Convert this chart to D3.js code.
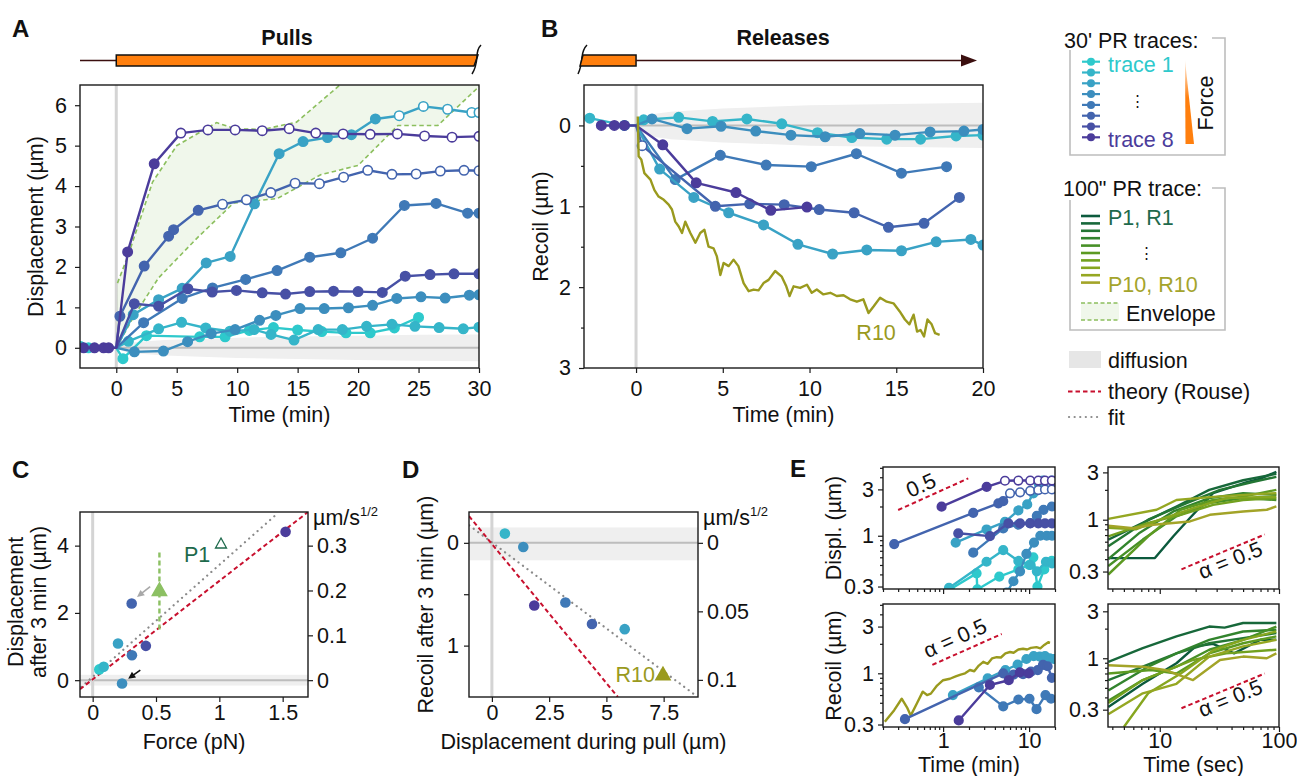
<!DOCTYPE html>
<html>
<head>
<meta charset="utf-8">
<script src="https://cdn.jsdelivr.net/npm/d3@7"></script>
<style>
body { margin: 0; background: #fff; }
</style>
</head>
<body>
<script>
var FONT = '"Liberation Sans", Arial, Helvetica, sans-serif'
var FS = 21.5

// ---- colours
var traceColors = ['#2ec9cc', '#35b5c9', '#39a2c5', '#3c8ebe', '#3f79b7', '#4364ae', '#4750a5', '#4b3c9b']
var greenColors = ['#0c5a3d', '#17683a', '#237634', '#32842d', '#479027', '#5c9a22', '#72a11f', '#86a61f', '#95a722', '#a3a428']
var olive = '#9a9a1e'

// ---- A: pulls, displacement (um) vs time (min)
var pullT1 = [[-2.95, 0.03], [-2.3, 0], [0, 0], [0.55, -0.27], [2.5, 0.3], [6.9, 0.27], [9.0, 0.27], [11.0, 0.43], [13.0, 0.5], [15.0, 0.44], [17.0, 0.4], [19.0, 0.37], [21.0, 0.37], [23.0, 0.49], [25.0, 0.75]]
var pullT2 = [[0, 0], [1.0, 0.16], [3.5, 0.47], [5.4, 0.63], [7.4, 0.49], [9.4, 0.41], [11.4, 0.45], [12.8, 0.33], [14.7, 0.19], [16.7, 0.45], [18.7, 0.45], [20.7, 0.53], [22.8, 0.58], [24.7, 0.53], [26.7, 0.5], [28.7, 0.47], [30, 0.51]]
var pullT3 = [[0, 0], [1.4, 0.82], [3.5, 1.19], [5.45, 1.47], [7.44, 2.1], [9.42, 2.26], [11.43, 3.56], [13.47, 4.8], [15.45, 5.1], [17.47, 5.2], [19.45, 5.27], [21.43, 5.66], [23.4, 5.74], [25.4, 5.97], [27.4, 5.9], [29.4, 5.82], [30, 5.82]]
var pullT4 = [[0, 0], [1.5, -0.1], [3.9, -0.08], [5.9, 0.15], [7.85, 0.35], [9.83, 0.45], [11.85, 0.68], [13.2, 0.8], [15.2, 0.97], [17.2, 0.97], [19.2, 0.99], [21.2, 1.05], [23.2, 1.22], [25.2, 1.26], [27.2, 1.23], [29.2, 1.3], [30, 1.31]]
var pullT5 = [[0, 0], [2.26, 0.62], [5.45, 1.22], [7.96, 1.48], [10.7, 1.69], [13.3, 1.91], [16.0, 2.24], [18.57, 2.35], [21.2, 2.71], [23.83, 3.52], [26.45, 3.57], [29.06, 3.33], [30, 3.33]]
var pullT6 = [[0, 0], [0.3, 0.78], [2.31, 2.02], [4.33, 2.76], [4.74, 2.92], [6.78, 3.4], [8.79, 3.55], [10.77, 3.66], [12.78, 3.84], [14.79, 4.07], [16.8, 4.06], [18.8, 4.22], [20.8, 4.39], [22.8, 4.29], [24.8, 4.3], [26.8, 4.37], [28.76, 4.39], [30, 4.38]]
var pullT7 = [[0, 0], [1.49, 1.09], [3.5, 1.03], [5.92, 1.46], [7.93, 1.38], [9.94, 1.42], [12.07, 1.36], [14.0, 1.33], [16.0, 1.39], [17.97, 1.4], [20.0, 1.39], [22.0, 1.37], [23.9, 1.77], [25.95, 1.81], [27.93, 1.83], [30, 1.83]]
var pullT8 = [[-2.7, 0], [-1.8, 0], [-1.05, 0], [-0.63, 0], [0, 0], [0.94, 2.37], [3.14, 4.55], [5.34, 5.31], [7.58, 5.39], [9.83, 5.39], [12.07, 5.37], [14.3, 5.42], [16.5, 5.31], [18.76, 5.29], [21.0, 5.28], [23.25, 5.29], [25.5, 5.24], [27.77, 5.21], [30, 5.23]]
var pullOpenFrom = [99, 99, 23, 99, 99, 8, 99, 5]
var envelopeUpper = [[0.1, 1.6], [1.0, 2.3], [3.0, 4.1], [5.0, 5.0], [8.3, 5.57], [9.8, 5.42], [12.1, 5.4], [14.9, 5.58], [18.5, 6.5], [22, 7.4], [30, 9]]
var envelopeLower = [[0, 0], [1.5, 0.8], [3.5, 1.73], [6.7, 2.72], [9.7, 3.58], [13.3, 3.69], [16.9, 4.28], [20, 4.51], [23.3, 5.5], [26.6, 5.5], [30, 6.46]]
var diffA = [[0, 0.02], [1, 0.12], [2, 0.15], [4, 0.19], [7, 0.22], [10, 0.25], [15, 0.28], [20, 0.3], [25, 0.32], [30, 0.33]]

// ---- B: releases, recoil (um) vs time (min)
var relT2 = [[-2.67, -0.09], [-0.67, 0], [0, 0], [0.44, -0.07], [2.46, -0.1], [4.41, -0.05], [6.39, -0.08], [8.4, -0.02], [10.46, 0.09], [12.44, 0.15], [14.45, 0.17], [16.4, 0.17], [18.45, 0.13], [20, 0.12]]
var relT4 = [[0, 0], [0.92, -0.08], [2.94, 0.04], [4.9, 0.01], [6.9, 0.07], [8.93, 0.12], [10.9, 0.14], [12.9, 0.1], [14.93, 0.12], [16.95, 0.08], [18.9, 0.07], [20, 0.05]]
var relT5 = [[0, 0], [2.26, 0.67], [4.86, 0.37], [7.5, 0.49], [10.1, 0.51], [12.7, 0.35], [15.3, 0.59], [17.9, 0.51]]
var relT3 = [[0, 0], [1.36, 0.54], [3.33, 0.89], [5.34, 1.08], [7.35, 1.23], [9.33, 1.47], [11.33, 1.59], [13.3, 1.54], [15.3, 1.55], [17.3, 1.44], [19.3, 1.41], [20, 1.48]]
var relT6 = [[0, 0], [0.35, 0.25], [4.57, 1.0], [6.55, 0.97], [8.54, 0.98], [10.56, 1.04], [12.57, 1.08], [14.55, 1.26], [16.6, 1.21], [18.64, 0.89]]
var relT8 = [[-2.0, 0], [-1.25, 0], [-0.67, 0], [0, 0], [1.54, 0.24], [3.47, 0.71], [5.76, 0.83], [7.77, 1.05], [9.85, 1.01]]
var relR10 = [[0.1, -0.11], [0.15, 0.38], [0.3, 0.42], [0.48, 0.59], [0.83, 0.67], [1.06, 0.8], [1.3, 0.88], [1.6, 0.92], [1.88, 0.98], [2.07, 1.04], [2.26, 1.19], [2.46, 1.25], [2.65, 1.33], [2.84, 1.19], [3.13, 1.33], [3.42, 1.45], [3.7, 1.33], [3.94, 1.29], [4.18, 1.5], [4.47, 1.52], [4.66, 1.62], [4.86, 1.85], [5.05, 1.7], [5.34, 1.74], [5.62, 1.66], [5.9, 1.74], [6.2, 1.95], [6.49, 2.05], [6.78, 2.03], [7.06, 2.04], [7.35, 1.95], [7.64, 1.91], [8.02, 1.8], [8.4, 1.87], [8.66, 1.99], [8.85, 2.11], [9.08, 1.99], [9.46, 2.01], [9.85, 1.97], [10.13, 2.07], [10.42, 2.03], [10.8, 2.09], [11.2, 2.07], [11.57, 2.11], [11.96, 2.1], [12.34, 2.15], [12.73, 2.18], [13.1, 2.15], [13.4, 2.32], [13.69, 2.24], [14.07, 2.13], [14.45, 2.18], [14.84, 2.2], [15.2, 2.3], [15.5, 2.4], [15.76, 2.46], [16.0, 2.34], [16.2, 2.55], [16.4, 2.53], [16.6, 2.61], [16.8, 2.4], [17.04, 2.46], [17.24, 2.57], [17.5, 2.59]]
var diffB = [[0, 0.02], [0.5, 0.1], [1, 0.14], [2, 0.17], [5, 0.21], [10, 0.25], [20, 0.28]]

// ---- C: displacement after 3 min vs force
var forceC = [0.052, 0.087, 0.2, 0.232, 0.31, 0.308, 0.42, 1.523]
var displC = [0.32, 0.4, 1.09, -0.1, 0.74, 2.28, 1.02, 4.41]
var colorC = [0, 1, 2, 3, 4, 5, 6, 7]
var theoryC = [[-0.1, -0.27], [1.7, 5.0]]
var fitC = [[-0.09, -0.2], [1.445, 4.91]]
var p1Force = 0.527, p1Range = [1.51, 3.87], p1Value = 2.68

// ---- D: recoil after 3 min vs displacement during pull
var pullD = [0.567, 1.37, 1.85, 3.21, 4.37, 5.8]
var recoilD = [-0.09, 0.04, 0.61, 0.58, 0.79, 0.84]
var colorD = [1, 3, 7, 4, 5, 2]
var r10D = [7.47, 1.28]
var theoryD = [[-1, -0.26], [5.5, 1.5]]
var fitD = [[-0.99, -0.17], [8.93, 1.49]]
var rightFactor = 0.075

// ---- E: log-log, 30' traces (min)
var dispE1 = [[1.2, 0.28], [2.45, 0.41], [2.5, 0.28], [4.5, 0.38], [7.5, 0.45], [10, 0.5], [11.2, 0.6], [12.5, 0.3], [15, 0.45], [18.4, 0.55]]
var dispE2 = [[1.17, 0.29], [3.2, 0.54], [5.0, 0.71], [7.5, 0.55], [10.3, 0.5], [12.3, 0.43], [15.7, 0.54], [18.4, 0.52]]
var dispE3 = [[1.4, 0.85], [3.2, 1.16], [5.24, 1.39], [7.5, 1.82], [9.5, 2.1], [11.2, 2.73], [13.0, 3.4], [14.5, 3.7], [18.4, 3.7]]
var dispE4 = [[5.5, 0.26], [6.57, 0.34], [7.85, 0.43], [9.3, 0.65], [11.4, 0.85], [13.5, 1.0], [16, 1.0], [18.4, 1.0]]
var dispE5 = [[2.24, 0.67], [5.0, 1.19], [7.5, 1.3], [10.3, 1.35], [12.3, 1.6], [14.7, 1.85], [18.4, 2.0]]
var dispE6 = [[0.27, 0.82], [2.24, 1.72], [4.39, 2.15], [5.0, 2.27], [6.0, 2.73], [7.85, 2.8], [10.3, 2.9], [12.8, 2.95], [15.3, 3.0], [18.4, 3.0]]
var dispE7 = [[1.5, 1.06], [3.5, 0.99], [5.74, 1.34], [7.85, 1.34], [10.3, 1.34], [12.8, 1.34], [15.3, 1.34], [18.4, 1.34]]
var dispE8 = [[0.96, 1.99], [3.21, 3.19], [5.24, 3.68], [7.5, 3.7], [10.3, 3.7], [12.8, 3.7], [15.3, 3.7], [18.4, 3.7]]
var dispEOpenFrom = [99, 99, 99, 99, 99, 6, 99, 5]
var recE3 = [[1.3, 0.6], [3.3, 0.89], [5.3, 1.08], [7.35, 1.23], [9.3, 1.4], [11.3, 1.5], [13.3, 1.48], [15.3, 1.5], [17.3, 1.42], [19.3, 1.4]]
var recE5 = [[2.6, 0.72], [5.0, 0.46], [7.5, 0.54], [10.1, 0.55], [12.2, 0.43], [15.5, 0.6], [18.0, 0.55]]
var recE6 = [[0.36, 0.34], [5.0, 1.0], [6.6, 0.97], [8.5, 0.98], [10.5, 1.04], [12.6, 1.08], [14.5, 1.22], [16.4, 1.18], [18.4, 0.9]]
var recE8 = [[1.52, 0.33], [3.5, 0.76], [5.8, 0.85], [7.8, 1.02], [9.9, 1.0]]
var recE10 = [[0.21, 0.32], [0.27, 0.42], [0.33, 0.55], [0.38, 0.45], [0.42, 0.37], [0.5, 0.5], [0.58, 0.65], [0.65, 0.6], [0.72, 0.62], [0.85, 0.75], [1.0, 0.85], [1.2, 0.88], [1.4, 0.93], [1.6, 0.97], [1.8, 1.0], [2.05, 1.08], [2.3, 1.05], [2.6, 1.2], [2.93, 1.31], [3.3, 1.25], [3.7, 1.42], [4.2, 1.46], [4.7, 1.45], [5.3, 1.6], [6.0, 1.65], [6.6, 1.62], [7.5, 1.75], [8.5, 1.78], [9.5, 1.75], [10.5, 1.82], [12.2, 1.85], [13.5, 1.8], [15, 1.95], [16.7, 2.08], [17.5, 2.05]]
var slopeDispE = [[0.3, 1.84], [1.96, 3.89]]
var slopeRecE = [[0.75, 1.22], [4.8, 2.52]]

// ---- E: log-log, 100'' traces (sec), P1..P10 and R1..R10
var pullE100 = [
  [[3.7, 0.41], [9.1, 0.41], [13, 0.68], [17.9, 1.04], [28, 1.85], [50, 2.33], [70, 2.6], [95, 3.04]],
  [[3.7, 0.63], [7.2, 0.93], [13.8, 1.36], [26, 2.0], [50, 2.5], [70, 2.7], [95, 2.9]],
  [[3.7, 0.54], [8, 1.0], [16.8, 1.47], [32, 2.0], [60, 2.4], [95, 2.7]],
  [[3.7, 0.4], [6.8, 0.74], [13, 1.21], [26, 1.65], [50, 1.85], [95, 1.78]],
  [[3.7, 0.34], [7.2, 0.63], [13.8, 1.08], [26, 1.47], [50, 1.65], [95, 1.58]],
  [[3.7, 0.28], [8, 0.68], [15, 1.26], [28, 1.58], [50, 1.71], [95, 2.0]],
  [[3.7, 0.68], [8, 0.93], [15, 1.12], [28, 1.41], [50, 1.58], [95, 1.65]],
  [[3.7, 0.83], [6.3, 0.8], [10, 1.0], [19, 1.3], [36, 1.65], [95, 1.71]],
  [[3.7, 1.02], [9.4, 1.26], [13.8, 1.58], [26.3, 1.69], [50, 1.78], [95, 1.85]],
  [[3.7, 0.87], [6, 0.82], [8.8, 0.89], [17.9, 0.96], [26.3, 1.12], [50, 1.21], [79, 1.26], [95, 1.36]]
]
var recE100 = [
  [[3.7, 0.32], [7.2, 0.55], [13.8, 0.89], [20, 1.32], [28, 1.4], [42, 1.12], [70, 1.54], [95, 1.54]],
  [[3.7, 0.92], [7.2, 1.27], [13.8, 1.67], [26, 2.1], [35, 2.05], [50, 2.28], [95, 2.28]],
  [[3.7, 0.6], [7.2, 0.82], [13.8, 1.12], [26, 1.42], [50, 1.6], [95, 1.8]],
  [[3.7, 0.47], [8, 0.82], [13.8, 1.12], [26, 1.54], [50, 1.87], [95, 1.95]],
  [[3.7, 0.37], [7.2, 0.6], [13.8, 0.82], [26, 1.22], [50, 1.54], [95, 2.1]],
  [[3.7, 0.7], [8.5, 0.76], [13.8, 0.7], [26, 1.12], [50, 1.42], [95, 1.67]],
  [[3.7, 0.35], [7.2, 0.6], [11.8, 0.76], [19, 0.96], [36, 1.12], [95, 1.22]],
  [[5, 0.2], [8, 0.44], [15, 0.7], [28, 1.2], [50, 1.54], [95, 1.87]],
  [[3.7, 0.27], [7.2, 0.44], [13.8, 0.55], [26, 1.04], [50, 1.32], [95, 1.54]],
  [[3.7, 0.85], [7.2, 0.82], [11, 0.76], [19, 0.6], [32, 0.96], [50, 1.04], [79, 1.0], [95, 1.12]]
]
var slopePull100 = [[15.2, 0.316], [76, 0.71]]
var slopeRec100 = [[15.2, 0.31], [76, 0.7]]

// ------------------------------------------------------------------
var svg = d3.select('body').append('svg')
  .attr('width', 1297).attr('height', 776)
  .style('font-family', FONT)
var defs = svg.append('defs')

function makePanel (id, box, x, y) {
  x.range([box[0], box[2]])
  y.range([box[3], box[1]])
  defs.append('clipPath').attr('id', id).append('rect')
    .attr('x', box[0]).attr('y', box[1])
    .attr('width', box[2] - box[0]).attr('height', box[3] - box[1])
  var g = svg.append('g')
  var plot = g.append('g').attr('clip-path', 'url(#' + id + ')')
  return { g: g, plot: plot, x: x, y: y, box: box }
}

function frame (p) {
  var b = p.box
  p.g.append('rect').attr('x', b[0]).attr('y', b[1])
    .attr('width', b[2] - b[0]).attr('height', b[3] - b[1])
    .attr('fill', 'none').attr('stroke', '#1a1a1a').attr('stroke-width', 1.4)
}

function axis (p, orient, values, fmt, len, pad, fs) {
  var b = p.box
  var gen, tr
  if (orient === 'left') { gen = d3.axisLeft(p.y); tr = 'translate(' + b[0] + ',0)' }
  if (orient === 'right') { gen = d3.axisRight(p.y); tr = 'translate(' + b[2] + ',0)' }
  if (orient === 'bottom') { gen = d3.axisBottom(p.x); tr = 'translate(0,' + b[3] + ')' }
  gen.tickValues(values).tickSize(len).tickPadding(pad)
    .tickFormat(typeof fmt === 'function' ? fmt : function () { return '' })
  var a = p.g.append('g').attr('transform', tr).call(gen)
  a.attr('font-size', fs || FS).attr('font-family', FONT)
  a.select('.domain').remove()
  a.selectAll('line').attr('stroke', '#1a1a1a').attr('stroke-width', 1.2)
  a.selectAll('text').attr('fill', '#111')
  return a
}

function label (x, y, str, opt) {
  opt = opt || {}
  var t = svg.append('text').attr('x', x).attr('y', y)
    .attr('font-size', opt.size || FS)
    .attr('font-weight', opt.bold ? 'bold' : null)
    .attr('text-anchor', opt.anchor || 'start')
    .attr('fill', opt.color || '#111')
    .text(str)
  if (opt.rotate) t.attr('transform', 'rotate(' + opt.rotate + ',' + x + ',' + y + ')')
  return t
}

function line (p) {
  return d3.line().x(function (d) { return p.x(d[0]) }).y(function (d) { return p.y(d[1]) })
}

function trace (p, pts, color, openFrom, openTo, r) {
  p.plot.append('path').datum(pts).attr('d', line(p))
    .attr('fill', 'none').attr('stroke', color).attr('stroke-width', 2.4)
    .attr('stroke-linejoin', 'round')
  p.plot.selectAll(null).data(pts.filter(function (d) { return d[0] !== 0 })).enter()
    .append('circle')
    .attr('cx', function (d) { return p.x(d[0]) })
    .attr('cy', function (d) { return p.y(d[1]) })
    .attr('r', r || 4.7)
    .attr('stroke', color).attr('stroke-width', 1.6)
    .attr('fill', function (d) { return (d[0] >= openFrom && d[0] <= openTo) ? '#fff' : color })
}

function band (p, pts, color) {
  var area = d3.area().x(function (d) { return p.x(d[0]) })
    .y0(function (d) { return p.y(-d[1]) }).y1(function (d) { return p.y(d[1]) })
  p.plot.append('path').datum(pts).attr('d', area).attr('fill', color || '#efefef')
}

function refLines (p, x0, y0, xFrom) {
  var b = p.box
  p.plot.append('line').attr('x1', p.x(xFrom)).attr('x2', b[2]).attr('y1', p.y(y0)).attr('y2', p.y(y0))
    .attr('stroke', '#bdbdbd').attr('stroke-width', 2)
  p.plot.append('line').attr('x1', p.x(x0)).attr('x2', p.x(x0)).attr('y1', b[1]).attr('y2', b[3])
    .attr('stroke', '#d4d4d4').attr('stroke-width', 3)
}

function dashed (p, pts, kind) {
  var path = p.plot.append('path').datum(pts).attr('d', line(p)).attr('fill', 'none')
  if (kind === 'theory') {
    path.attr('stroke', '#c8102e').attr('stroke-width', 2).attr('stroke-dasharray', '4.5,3')
  } else {
    path.attr('stroke', '#8a8a8a').attr('stroke-width', 2.2).attr('stroke-dasharray', '0.1,5.5')
      .attr('stroke-linecap', 'round')
  }
  return path
}

function tri (g, cx, cy, s, fill, stroke) {
  g.append('path')
    .attr('d', 'M' + cx + ',' + (cy - s * 0.6) + 'L' + (cx + s * 0.6) + ',' + (cy + s * 0.45) + 'L' + (cx - s * 0.6) + ',' + (cy + s * 0.45) + 'Z')
    .attr('fill', fill).attr('stroke', stroke || fill).attr('stroke-width', 1.4)
}

// ================= A =================
var pA = makePanel('clipA', [80, 85, 479, 368], d3.scaleLinear().domain([-3, 30]), d3.scaleLinear().domain([-0.5, 6.5]))
band(pA, diffA)
refLines(pA, 0, 0, 0)
var envArea = envelopeUpper.concat(envelopeLower.slice().reverse())
pA.plot.append('path').datum(envArea).attr('d', line(pA) (envArea) + 'Z')
  .attr('fill', 'rgba(141,191,98,0.13)')
;[envelopeUpper, envelopeLower].forEach(function (e) {
  pA.plot.append('path').datum(e).attr('d', line(pA)).attr('fill', 'none')
    .attr('stroke', '#8cbf5e').attr('stroke-width', 1.6).attr('stroke-dasharray', '4.5,3')
})
;[pullT1, pullT2, pullT3, pullT4, pullT5, pullT6, pullT7, pullT8].forEach(function (t, i) {
  trace(pA, t, traceColors[i], pullOpenFrom[i], 99)
})
frame(pA)
axis(pA, 'left', d3.range(0, 7), d3.format('d'), 5, 8)
axis(pA, 'bottom', [0, 5, 10, 15, 20, 25, 30], d3.format('d'), 5, 8)
label(42.7, 226.5, 'Displacement (µm)', { anchor: 'middle', rotate: -90 })
label(279.5, 422, 'Time (min)', { anchor: 'middle' })
label(12, 37, 'A', { bold: true, size: 24 })

// timeline pulls
svg.append('line').attr('x1', pA.x(-3)).attr('x2', pA.x(0)).attr('y1', 60.5).attr('y2', 60.5)
  .attr('stroke', '#3b0f0f').attr('stroke-width', 1.6)
svg.append('path')
  .attr('d', 'M' + pA.x(0) + ',55L' + (pA.x(30) - 1) + ',55L' + (pA.x(30) - 5) + ',66L' + pA.x(0) + ',66Z')
  .attr('fill', '#ff7f0e').attr('stroke', '#111').attr('stroke-width', 1.5)
svg.append('path').attr('d', 'M481,45 Q477,49 477,57 Q476,68 472,74')
  .attr('fill', 'none').attr('stroke', '#111').attr('stroke-width', 1.5)
label(287, 44.5, 'Pulls', { bold: true, anchor: 'middle' })

// ================= B =================
var pB = makePanel('clipB', [584, 85, 983, 368], d3.scaleLinear().domain([-3, 20]), d3.scaleLinear().domain([3, -0.5]))
band(pB, diffB)
refLines(pB, 0, 0, 0)
trace(pB, relT2, traceColors[1], 99, 99)
trace(pB, relT4, traceColors[3], 99, 99)
trace(pB, relT5, traceColors[4], 99, 99)
trace(pB, relT3, traceColors[2], 99, 99)
trace(pB, relT6, traceColors[5], 0.3, 0.4)
trace(pB, relT8, traceColors[7], 99, 99)
pB.plot.append('path').datum(relR10).attr('d', line(pB)).attr('fill', 'none')
  .attr('stroke', olive).attr('stroke-width', 2.4).attr('stroke-linejoin', 'round')
frame(pB)
axis(pB, 'left', [0, 1, 2, 3], d3.format('d'), 5, 8)
axis(pB, 'left', [0.5, 1.5, 2.5], null, 3, 3)
axis(pB, 'bottom', [0, 5, 10, 15, 20], d3.format('d'), 5, 8)
label(547.5, 226.5, 'Recoil (µm)', { anchor: 'middle', rotate: -90 })
label(783.5, 422, 'Time (min)', { anchor: 'middle' })
label(pB.x(12.7), 339.5, 'R10', { color: olive })
label(541, 37, 'B', { bold: true, size: 24 })

// timeline releases
svg.append('path').attr('d', 'M587,45 Q583,49 582,57 Q581,68 578,74')
  .attr('fill', 'none').attr('stroke', '#111').attr('stroke-width', 1.5)
svg.append('path').attr('d', 'M583,55L' + pB.x(0) + ',55L' + pB.x(0) + ',66L580,66Z')
  .attr('fill', '#ff7f0e').attr('stroke', '#111').attr('stroke-width', 1.5)
svg.append('line').attr('x1', pB.x(0)).attr('x2', 963).attr('y1', 60.5).attr('y2', 60.5)
  .attr('stroke', '#3b0f0f').attr('stroke-width', 1.6)
svg.append('path').attr('d', 'M961,54.5L977,60.5L961,66.5Z').attr('fill', '#3b0f0f')
label(783, 44.5, 'Releases', { bold: true, anchor: 'middle' })

// ================= legend =================
var lg = svg.append('g')
lg.append('path').attr('d', 'M1212,38H1225V155H1070V50').attr('fill', 'none').attr('stroke', '#bdbdbd').attr('stroke-width', 1.6)
label(1064, 47.5, "30' PR traces:")
traceColors.forEach(function (c, i) {
  var yy = 61.7 + i * 10.8
  lg.append('line').attr('x1', 1082).attr('x2', 1100).attr('y1', yy).attr('y2', yy).attr('stroke', c).attr('stroke-width', 2.2)
  lg.append('circle').attr('cx', 1091).attr('cy', yy).attr('r', 4).attr('fill', c)
})
label(1108, 71.5, 'trace 1', { color: traceColors[0] })
label(1108, 146.5, 'trace 8', { color: traceColors[7] })
label(1137, 106, '⋮', { anchor: 'middle', size: 15 })
var grad = defs.append('linearGradient').attr('id', 'forceGrad').attr('x1', 0).attr('x2', 0).attr('y1', 0).attr('y2', 1)
grad.append('stop').attr('offset', '0%').attr('stop-color', '#ff7f0e').attr('stop-opacity', 0.1)
grad.append('stop').attr('offset', '45%').attr('stop-color', '#ff7f0e').attr('stop-opacity', 1)
lg.append('path').attr('d', 'M1185,60L1194,144L1185.5,144Z').attr('fill', 'url(#forceGrad)')
label(1213, 103, 'Force', { anchor: 'middle', rotate: -90 })

lg.append('path').attr('d', 'M1212,188H1225V330H1070V200').attr('fill', 'none').attr('stroke', '#bdbdbd').attr('stroke-width', 1.6)
label(1063, 195.5, '100" PR trace:')
greenColors.forEach(function (c, i) {
  var yy = 216 + i * 7.4
  lg.append('line').attr('x1', 1081).attr('x2', 1100).attr('y1', yy).attr('y2', yy).attr('stroke', c).attr('stroke-width', 2.6)
})
label(1108, 225, 'P1, R1', { color: '#1e6a4c' })
label(1108, 292, 'P10, R10', { color: '#a4a42c' })
label(1146, 258, '⋮', { anchor: 'middle', size: 15 })
lg.append('rect').attr('x', 1081).attr('y', 303).attr('width', 38).attr('height', 17).attr('fill', 'rgba(141,191,98,0.13)')
;[303, 320].forEach(function (yy) {
  lg.append('line').attr('x1', 1081).attr('x2', 1119).attr('y1', yy).attr('y2', yy)
    .attr('stroke', '#8cbf5e').attr('stroke-width', 1.5).attr('stroke-dasharray', '4,2.5')
})
label(1126, 320.5, 'Envelope')
lg.append('rect').attr('x', 1069).attr('y', 351).attr('width', 32).attr('height', 17).attr('fill', '#e6e6e6')
label(1108, 367.5, 'diffusion')
lg.append('line').attr('x1', 1068).attr('x2', 1101).attr('y1', 391.5).attr('y2', 391.5)
  .attr('stroke', '#c8102e').attr('stroke-width', 2).attr('stroke-dasharray', '4.5,3')
label(1108, 399, 'theory (Rouse)')
lg.append('line').attr('x1', 1069).attr('x2', 1101).attr('y1', 417).attr('y2', 417)
  .attr('stroke', '#8a8a8a').attr('stroke-width', 2.2).attr('stroke-dasharray', '0.1,5.5').attr('stroke-linecap', 'round')
label(1108, 424.5, 'fit')

// ================= C =================
var pC = makePanel('clipC', [80, 512, 308, 697], d3.scaleLinear().domain([-0.1, 1.7]), d3.scaleLinear().domain([-0.5, 5]))
pC.plot.append('rect').attr('x', 80).attr('width', 228).attr('y', pC.y(0.16)).attr('height', pC.y(-0.16) - pC.y(0.16)).attr('fill', '#efefef')
refLines(pC, 0, 0, -0.1)
dashed(pC, fitC, 'fit')
dashed(pC, theoryC, 'theory')
pC.plot.append('line').attr('x1', pC.x(p1Force)).attr('x2', pC.x(p1Force))
  .attr('y1', pC.y(p1Range[0])).attr('y2', pC.y(p1Range[1]))
  .attr('stroke', '#8cc063').attr('stroke-width', 2.4).attr('stroke-dasharray', '5,3')
tri(pC.plot, pC.x(p1Force), pC.y(p1Value), 12, '#8cc063')
pC.plot.selectAll(null).data(forceC).enter().append('circle')
  .attr('cx', function (d) { return pC.x(d) })
  .attr('cy', function (d, i) { return pC.y(displC[i]) })
  .attr('r', 5.3).attr('fill', function (d, i) { return traceColors[colorC[i]] })
frame(pC)
axis(pC, 'left', [0, 2, 4], d3.format('d'), 5, 6)
axis(pC, 'right', [0, 0.1, 0.2, 0.3].map(function (v) { return v / rightFactor }),
  function (d) { return d3.format('.1~f')(d * rightFactor) }, 5, 4)
axis(pC, 'bottom', [0, 0.5, 1, 1.5], d3.format('~g'), 5, 3)
label(23.3, 602, 'Displacement', { anchor: 'middle', rotate: -90 })
label(46, 602, 'after 3 min (µm)', { anchor: 'middle', rotate: -90 })
label(194, 749, 'Force (pN)', { anchor: 'middle' })
label(12, 478, 'C', { bold: true, size: 24 })
var uC = label(313, 525, 'µm/s')
uC.append('tspan').attr('font-size', 13).attr('dy', -9).text('1/2')
label(184, 562, 'P1', { color: '#1e6a4c' })
svg.append('path').attr('d', 'M221,538L226.5,548L215.5,548Z').attr('fill', 'none').attr('stroke', '#1e6a4c').attr('stroke-width', 1.3)
// arrows
function arrow (x1, y1, x2, y2, color) {
  var ang = Math.atan2(y2 - y1, x2 - x1)
  svg.append('line').attr('x1', x1).attr('y1', y1).attr('x2', x2 - 5 * Math.cos(ang)).attr('y2', y2 - 5 * Math.sin(ang))
    .attr('stroke', color).attr('stroke-width', 1.6)
  var hx = x2, hy = y2, s = 8
  svg.append('path').attr('d', 'M' + hx + ',' + hy +
    'L' + (hx - s * Math.cos(ang - 0.45)) + ',' + (hy - s * Math.sin(ang - 0.45)) +
    'L' + (hx - s * Math.cos(ang + 0.45)) + ',' + (hy - s * Math.sin(ang + 0.45)) + 'Z').attr('fill', color)
}
arrow(pC.x(0.454), pC.y(2.78), pC.x(0.35), pC.y(2.47), '#a8a8a8')
arrow(pC.x(0.376), pC.y(0.3), pC.x(0.28), pC.y(0.04), '#111')

// ================= D =================
var pD = makePanel('clipD', [469, 512, 698, 697], d3.scaleLinear().domain([-1, 9]), d3.scaleLinear().domain([1.5, -0.3]))
pD.plot.append('rect').attr('x', 469).attr('width', 229).attr('y', pD.y(-0.15)).attr('height', pD.y(0.17) - pD.y(-0.15)).attr('fill', '#efefef')
refLines(pD, 0, 0, -1)
dashed(pD, fitD, 'fit')
dashed(pD, theoryD, 'theory')
pD.plot.selectAll(null).data(pullD).enter().append('circle')
  .attr('cx', function (d) { return pD.x(d) })
  .attr('cy', function (d, i) { return pD.y(recoilD[i]) })
  .attr('r', 5.3).attr('fill', function (d, i) { return traceColors[colorD[i]] })
tri(pD.plot, pD.x(r10D[0]), pD.y(r10D[1]), 12, olive)
frame(pD)
axis(pD, 'left', [0, 0.5, 1], function (d) { return d === 0.5 ? '' : d3.format('d')(d) }, 5, 5)
axis(pD, 'right', [0, 0.05, 0.1].map(function (v) { return v / rightFactor }),
  function (d) { return d3.format('~g')(+(d * rightFactor).toFixed(3)) }, 5, 4)
axis(pD, 'bottom', [0, 2.5, 5, 7.5], d3.format('~g'), 5, 3)
label(433, 604.5, 'Recoil after 3 min (µm)', { anchor: 'middle', rotate: -90 })
label(583.5, 749, 'Displacement during pull (µm)', { anchor: 'middle' })
label(402, 478, 'D', { bold: true, size: 24 })
var uD = label(703, 525, 'µm/s')
uD.append('tspan').attr('font-size', 13).attr('dy', -9).text('1/2')
label(pD.x(r10D[0]) - 8, pD.y(r10D[1]) + 8, 'R10', { color: olive, anchor: 'end' })

// ================= E =================
var minorMin = [0.2, 0.3, 0.4, 0.5, 0.6, 0.7, 0.8, 0.9, 2, 3, 4, 5, 6, 7, 8, 9, 20]
var minorSec = [4, 5, 6, 7, 8, 9, 20, 30, 40, 50, 60, 70, 80, 90]
var minorY = [0.2, 0.4, 0.5, 0.6, 0.7, 0.8, 0.9, 2, 4, 5]
var fmtE = function (d) { return d3.format('~g')(d) }

function eAxes (p, minorX, majorX, xLabels) {
  frame(p)
  axis(p, 'left', minorY.filter(function (v) { return v > p.y.domain()[0] && v < p.y.domain()[1] }), null, 3, 3)
  axis(p, 'left', [0.3, 1, 3], fmtE, 5, 4)
  axis(p, 'bottom', minorX, null, 3, 3)
  axis(p, 'bottom', majorX, xLabels ? fmtE : null, 5, 1)
}

var pE1 = makePanel('clipE1', [883, 467, 1055, 589], d3.scaleLog().domain([0.2, 20]), d3.scaleLog().domain([0.283, 5.1]))
;[dispE1, dispE2, dispE3, dispE4, dispE5, dispE6, dispE7, dispE8].forEach(function (t, i) {
  trace(pE1, t, traceColors[i], dispEOpenFrom[i], 99, 4.3)
})
dashed(pE1, slopeDispE, 'theory')
eAxes(pE1, minorMin, [1, 10], false)
label(924, 492, '0.5', { anchor: 'middle', rotate: -24 })

var pE2 = makePanel('clipE2', [883, 604, 1055, 727], d3.scaleLog().domain([0.2, 20]), d3.scaleLog().domain([0.283, 5.1]))
pE2.plot.append('path').datum(recE10).attr('d', line(pE2)).attr('fill', 'none')
  .attr('stroke', olive).attr('stroke-width', 2.4).attr('stroke-linejoin', 'round')
trace(pE2, recE3, traceColors[2], 99, 99, 4.3)
trace(pE2, recE5, traceColors[4], 99, 99, 4.3)
trace(pE2, recE6, traceColors[5], 99, 99, 4.3)
trace(pE2, recE8, traceColors[7], 99, 99, 4.3)
dashed(pE2, slopeRecE, 'theory')
eAxes(pE2, minorMin, [1, 10], true)
label(958, 645, 'α = 0.5', { anchor: 'middle', rotate: -24 })

var pE3 = makePanel('clipE3', [1108, 467, 1279, 589], d3.scaleLog().domain([3.68, 100]), d3.scaleLog().domain([0.2, 3.4]))
pullE100.forEach(function (t, i) {
  pE3.plot.append('path').datum(t).attr('d', line(pE3)).attr('fill', 'none')
    .attr('stroke', greenColors[i]).attr('stroke-width', 2.4).attr('stroke-linejoin', 'round')
})
dashed(pE3, slopePull100, 'theory')
eAxes(pE3, minorSec, [10, 100], false)
label(1233, 567, 'α = 0.5', { anchor: 'middle', rotate: -22 })

var pE4 = makePanel('clipE4', [1108, 604, 1279, 727], d3.scaleLog().domain([3.68, 100]), d3.scaleLog().domain([0.2, 3.56]))
recE100.forEach(function (t, i) {
  pE4.plot.append('path').datum(t).attr('d', line(pE4)).attr('fill', 'none')
    .attr('stroke', greenColors[i]).attr('stroke-width', 2.4).attr('stroke-linejoin', 'round')
})
dashed(pE4, slopeRec100, 'theory')
eAxes(pE4, minorSec, [10, 100], true)
label(1233, 705, 'α = 0.5', { anchor: 'middle', rotate: -22 })

label(841, 528, 'Displ. (µm)', { anchor: 'middle', rotate: -90 })
label(841, 665.5, 'Recoil (µm)', { anchor: 'middle', rotate: -90 })
label(969, 772, 'Time (min)', { anchor: 'middle' })
label(1193.5, 772, 'Time (sec)', { anchor: 'middle' })
label(790, 477, 'E', { bold: true, size: 24 })
</script>
</body>
</html>
